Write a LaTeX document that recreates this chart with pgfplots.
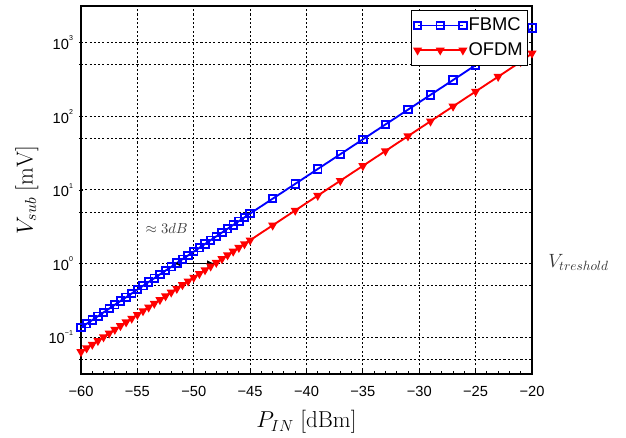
\documentclass[border=0pt]{standalone}
\usepackage[no-math]{fontspec}
\setmainfont{Liberation Sans}
\usepackage{pgfplots}
\pgfplotsset{compat=1.18}
\usetikzlibrary{arrows.meta}
\newcommand{\tp}[1]{10\raisebox{6.5pt}{\fontsize{5.3}{6}\selectfont #1}}
\begin{document}
\begin{tikzpicture}
\useasboundingbox (-60.75pt,-48pt) rectangle (408.75pt,280.5pt);
\begin{axis}[
  scale only axis, width=338.25pt, height=276pt,
  at={(0,0)}, anchor=south west,
  xmin=-60, xmax=-20,
  ymode=log, ymin=0.031623, ymax=3162.3,
  clip=false,
  axis line style={line width=1.1pt},
  xtick={-60,-55,...,-20},
  xticklabels={−60,−55,−50,−45,−40,−35,−30,−25,−20},
  minor x tick num=4,
  ytick={0.05,0.1,0.5,1,5,10,50,100,500,1000},
  yticklabels={,\tp{−1},,\tp{0},,\tp{1},,\tp{2},,\tp{3}},
  yminorticks=false,
  tick pos=left,
  major tick length=3pt, minor tick length=2pt,
  tick style={black, line width=0.7pt},
  ytick align=center,
  grid=major,
  major grid style={black, line width=0.75pt, dash pattern=on 1.6pt off 1.6pt},
  ticklabel style={font=\fontsize{11}{12}\selectfont},
  xticklabel style={yshift=-6pt},
  yticklabel style={xshift=-1pt},
  xlabel={$P_{IN}\;[\mathrm{dBm}]$},
  ylabel={$V_{sub}\;[\mathrm{mV}]$},
  label style={font=\fontsize{18.5}{20}\selectfont},
  xlabel style={at={(axis description cs:0.5,-0.13)}, anchor=center},
  ylabel style={at={(axis description cs:-0.12,0.5)}, anchor=center, rotate=0},
  legend style={at={(rel axis cs:0.991,0.989)}, anchor=north east,
    font=\fontsize{13.8}{16}\selectfont, draw=black, line width=0.7pt,
    inner xsep=2pt, inner ysep=4pt, row sep=4pt,
    nodes={inner xsep=1.5pt, inner ysep=1pt, text height=10pt, text depth=2.5pt}},
  legend cell align=left,
  legend image code/.code={\draw[#1] plot coordinates {(0pt,0pt) (17pt,0pt) (34pt,0pt)};},
]
\addplot[blue, line width=1.4pt, mark=square, mark size=2.8pt, mark options={solid, line width=1.4pt}] coordinates {
(-60,0.1349) (-59.5,0.1521) (-59,0.1710) (-58.5,0.1928) (-58,0.2173) (-57.5,0.2443)
(-57,0.2754) (-56.5,0.3105) (-56,0.3491) (-55.5,0.3936) (-55,0.4436) (-54.5,0.4989)
(-54,0.5623) (-53.5,0.6324) (-53,0.7129) (-52.5,0.8035) (-52,0.9036) (-51.5,1.019)
(-51,1.148) (-50.5,1.292) (-50,1.455) (-49.5,1.640) (-49,1.846) (-48.5,2.080)
(-48,2.344) (-47.5,2.638) (-47,2.972) (-46.5,3.350) (-46,3.767) (-45.5,4.246) (-45,4.786)
(-43,7.62) (-41,12.11) (-39,19.28) (-37,30.62) (-35,48.75) (-33,77.62) (-31,123.3)
(-29,196.3) (-27,311.9) (-25,496.6) (-23,790.7) (-21,1256) (-20,1585)
};
\addlegendentry{FBMC\hspace{5pt}}
\addplot[red, line width=1.4pt, mark=triangle*, mark size=2.6pt, mark options={solid, rotate=180}] coordinates {
(-60,0.0631) (-59.5,0.0710) (-59,0.0796) (-58.5,0.0895) (-58,0.1005) (-57.5,0.1130)
(-57,0.1271) (-56.5,0.1426) (-56,0.1603) (-55.5,0.1799) (-55,0.2023) (-54.5,0.2275)
(-54,0.2553) (-53.5,0.2871) (-53,0.3221) (-52.5,0.3622) (-52,0.4074) (-51.5,0.4571)
(-51,0.5140) (-50.5,0.5768) (-50,0.6486) (-49.5,0.7295) (-49,0.8185) (-48.5,0.9204)
(-48,1.033) (-47.5,1.161) (-47,1.306) (-46.5,1.466) (-46,1.648) (-45.5,1.849) (-45,2.080)
(-43,3.311) (-41,5.272) (-39,8.395) (-37,13.37) (-35,21.28) (-33,33.88) (-31,53.95)
(-29,85.90) (-27,136.8) (-25,217.8) (-23,346.7) (-21,552.1) (-20,720)
};
\addlegendentry{OFDM\hspace{5pt}}
\draw[{Latex[length=6pt,width=5pt]}-{Latex[length=6pt,width=5pt]}, line width=1.3pt, black]
  (axis cs:-51.8,1) -- (axis cs:-48.1,1);
\node[text=black!75, font=\fontsize{11}{12}\selectfont] at (axis cs:-52.4,3.0) {$\approx 3dB$};
\node[anchor=base west, text=black!80, font=\fontsize{14.5}{16}\selectfont, inner sep=0pt]
  at (axis cs:-20,1) [xshift=12pt, yshift=-3pt] {$V_{treshold}$};
\end{axis}
\end{tikzpicture}
\end{document}
